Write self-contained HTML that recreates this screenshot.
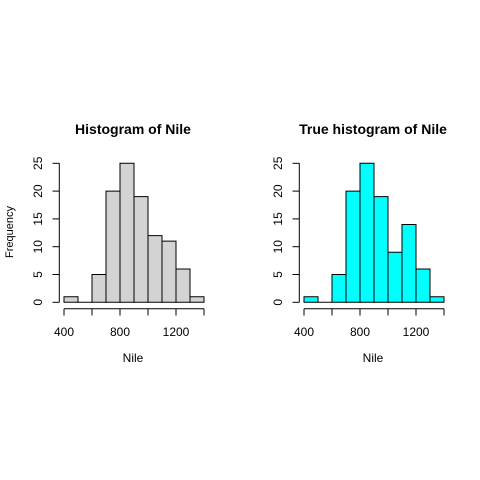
<!DOCTYPE html>
<html><head><meta charset="utf-8"><style>body{margin:0;background:#fff}svg{display:block}text{font-family:"Liberation Sans",Arial,sans-serif}</style></head>
<body>
<svg id="c" width="480" height="480" xmlns="http://www.w3.org/2000/svg"></svg>
<script>
const breaks = [400,500,600,700,800,900,1000,1100,1200,1300,1400];
const countsLeft = [1,0,5,20,25,19,12,11,6,1];
const countsRight = [1,0,5,20,25,19,9,14,6,1];
const yTicks = [0,5,10,15,20,25];
const xTicks = [400,600,800,1000,1200,1400];
const xLabels = [400,800,1200];
const NS="http://www.w3.org/2000/svg";
const svg=document.getElementById('c');
function mk(tag,attrs,parent){const e=document.createElementNS(NS,tag);for(const k in attrs)e.setAttribute(k,attrs[k]);(parent||svg).appendChild(e);return e;}
function panel(off,counts,fill,title,showY,name){
  const g=mk('g',{});
  
  
  const xs=v=>off+64+(v-400)*0.14;
  const ys=v=>302.3-v*(139/25);
  const t=mk('text',{x:off+133,y:134,'text-anchor':'middle','font-size':14,'font-weight':'bold'},g);
  t.textContent=title;
  
  
  counts.forEach((c,i)=>{
    const x0=xs(breaks[i]),x1=xs(breaks[i+1]),y0=ys(0),y1=ys(c);
    const r=mk('path',{d:`M${x0},${y0}L${x0},${y1}L${x1},${y1}L${x1},${y0}Z`,fill:fill,stroke:'#000','stroke-width':1},g);
    
    
  });
  const ax=mk('g',{stroke:'#000','stroke-width':1},g);
  
  
  mk('line',{x1:xs(400),x2:xs(1400),y1:308.7,y2:308.7},ax);
  xTicks.forEach(v=>mk('line',{x1:xs(v),x2:xs(v),y1:308.7,y2:315.5},ax));
  xLabels.forEach(v=>{const l=mk('text',{x:xs(v),y:336,'text-anchor':'middle','font-size':12,fill:'#000'},g);l.textContent=v;
    });
  const ay=mk('g',{stroke:'#000','stroke-width':1},g);
  
  
  mk('line',{x1:off+59.3,x2:off+59.3,y1:ys(0),y2:ys(25)},ay);
  yTicks.forEach(v=>{mk('line',{x1:off+52.5,x2:off+59.3,y1:ys(v),y2:ys(v)},ay);
    const l=mk('text',{x:0,y:0,'text-anchor':'middle','font-size':12,transform:`translate(${off+42},${ys(v)}) rotate(-90)`},g);l.textContent=v;
    });
  const xl=mk('text',{x:off+133,y:362,'text-anchor':'middle','font-size':12},g);xl.textContent='Nile';
  
  if(showY){const yl=mk('text',{x:0,y:0,'text-anchor':'middle','font-size':11,transform:`translate(${off+13},232) rotate(-90)`},g);yl.textContent='Frequency';
    }
}
panel(0,countsLeft,'#d3d3d3','Histogram of Nile',true,'left-histogram');
panel(240,countsRight,'#00ffff','True histogram of Nile',false,'right-histogram');
</script>
</body></html>
